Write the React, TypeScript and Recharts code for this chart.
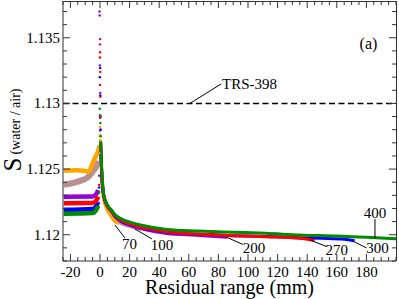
import {
  ComposedChart,
  Line,
  Scatter,
  XAxis,
  YAxis,
  ReferenceLine,
  ReferenceDot,
} from "recharts";

type Pt = [number, number];

// plateau before the peak (residual range < 0)
const orangeBefore: Pt[] = [[-24.5, 1.1249], [-15, 1.12492], [-10, 1.12485], [-7.5, 1.1248], [-5.5, 1.1253], [-3.2, 1.1259], [-1.5, 1.1263], [-0.3, 1.1268]];
const tanBefore: Pt[] = [[-24.5, 1.1238], [-15, 1.12405], [-8, 1.1244], [-5, 1.1248], [-2.5, 1.1252], [-0.8, 1.1256]];
const purpleBefore: Pt[] = [[-24.5, 1.1229], [-5, 1.12292], [-2.5, 1.1231], [-1.2, 1.1234]];
const redBefore: Pt[] = [[-24.5, 1.1224], [-5, 1.12242], [-2.5, 1.1226], [-1.2, 1.1229]];
const blueBefore: Pt[] = [[-24.5, 1.1219], [-5, 1.12196], [-2.5, 1.1222], [-1.2, 1.1225]];
const greenBefore: Pt[] = [[-24.5, 1.1216], [-5, 1.12165], [-2.5, 1.1219], [-1.2, 1.1222]];

// tails after the peak
const orangeAfter: Pt[] = [[0.4, 1.1266], [0.8, 1.1253], [1.2, 1.1242], [1.8, 1.1232], [2.5, 1.12265], [4, 1.1221], [6, 1.12165], [8, 1.1213], [10, 1.121], [13, 1.12085]];
const tanAfter: Pt[] = [[0.4, 1.1268], [0.8, 1.1255], [1.2, 1.1244], [1.8, 1.1234], [2.5, 1.1228], [4, 1.1223], [6, 1.1219], [8, 1.1216], [10, 1.1213], [13, 1.12095], [22, 1.12057], [28, 1.1204]];
const purpleAfter: Pt[] = [[0.4, 1.127], [0.8, 1.1257], [1.2, 1.1246], [1.8, 1.1236], [2.5, 1.12295], [4, 1.1224], [6, 1.122], [8, 1.12175], [10, 1.1214], [13, 1.1211], [22, 1.12065], [30, 1.1204], [45, 1.1201], [67, 1.11995], [86, 1.1198]];
const redAfter: Pt[] = [[0.4, 1.1271], [0.8, 1.1258], [1.2, 1.1247], [1.8, 1.1237], [2.5, 1.1230], [4, 1.12245], [6, 1.12205], [8, 1.1218], [10, 1.12148], [13, 1.1212], [22, 1.12075], [30, 1.12052], [45, 1.12022], [67, 1.12005], [90, 1.11993], [112, 1.11985], [135, 1.11973], [145, 1.11955]];
const blueAfter: Pt[] = [[0.4, 1.1270], [0.8, 1.1257], [1.2, 1.1246], [1.8, 1.1236], [2.5, 1.12298], [4, 1.12243], [6, 1.12203], [8, 1.12177], [10, 1.12145], [13, 1.12115], [22, 1.12072], [30, 1.1205], [45, 1.1202], [67, 1.12003], [90, 1.11993], [112, 1.11987], [135, 1.11978], [150, 1.11973], [165, 1.11966], [172, 1.11955]];
const greenAfter: Pt[] = [[0.4, 1.1272], [0.8, 1.126], [1.2, 1.1249], [1.8, 1.1239], [2.5, 1.1231], [4, 1.1225], [6, 1.1221], [8, 1.12185], [10, 1.12155], [13, 1.1213], [22, 1.1209], [30, 1.12068], [45, 1.1204], [67, 1.12028], [90, 1.12019], [112, 1.12011], [135, 1.11998], [160, 1.1199], [180, 1.1198], [200, 1.1197]];

// scattered points around the peak
const orangeSpike: Pt[] = [[0, 1.1282], [0.2, 1.1276], [0.3, 1.1272], [-0.2, 1.1275]];
const tanSpike: Pt[] = [[0.1, 1.1285], [-0.1, 1.1279], [0.3, 1.1272], [-0.4, 1.1262]];
const purpleSpike: Pt[] = [[-0.3, 1.137], [-0.2, 1.1367], [0.1, 1.1349], [-0.1, 1.1329], [0.2, 1.1308], [0, 1.1289], [0.3, 1.128], [-0.6, 1.1245]];
const redSpike: Pt[] = [[0, 1.1345], [0.1, 1.1339], [-0.1, 1.1335], [0.2, 1.1324], [0, 1.1314], [0.3, 1.1305], [0.4, 1.129], [-0.6, 1.1238]];
const blueSpike: Pt[] = [[0.1, 1.1327], [-0.1, 1.132], [0.2, 1.1306], [0.3, 1.129], [0.4, 1.128], [-0.6, 1.1236]];
const greenSpike: Pt[] = [[-0.2, 1.1296], [0, 1.1291], [0.3, 1.1285], [0.5, 1.1275], [-0.6, 1.1232]];

const X_MIN = -25;
const X_MAX = 200;
const Y_MIN = 1.118;
const Y_MAX = 1.1378;

const xMajor = [-20, 0, 20, 40, 60, 80, 100, 120, 140, 160, 180];
const xTicks = Array.from({ length: 46 }, (_, i) => -25 + i * 5);
const yMajor = [1.12, 1.125, 1.13, 1.135];
const yTicks = [1.118, 1.119, 1.12, 1.121, 1.122, 1.123, 1.124, 1.125, 1.126, 1.127, 1.128, 1.129, 1.13, 1.131, 1.132, 1.133, 1.134, 1.135, 1.136, 1.137];

const TRS = 1.13;

// chart box and margins -> plot size, used to mirror ticks on the top / right edges
const W = 399;
const H = 299;
const M = { top: 1, right: 3, bottom: 0, left: 0 };
const Y_AXIS_W = 63;
const X_AXIS_H = 38;
const PLOT_W = W - M.left - M.right - Y_AXIS_W;
const PLOT_H = H - M.top - M.bottom - X_AXIS_H;

const AXIS = "#333";
// no generic fallback on purpose: "serif" resolves to a sans face here
const FONT = "'Liberation Serif'";

const pts = (a: Pt[]) => a.map(([x, y]) => ({ x, y }));
const isMajor = (v: number, list: number[]) => list.some((m) => Math.abs(m - v) < 1e-7);

const series = [
  { color: "#BC8F8F", before: tanBefore, after: tanAfter, spike: tanSpike, w: 6 },
  { color: "#FFA500", before: orangeBefore, after: orangeAfter, spike: orangeSpike, w: 4.5 },
  { color: "#9400D3", before: purpleBefore, after: purpleAfter, spike: purpleSpike, w: 4.5 },
  { color: "#0000FF", before: blueBefore, after: blueAfter, spike: blueSpike, w: 4.5 },
  { color: "#FF0000", before: redBefore, after: redAfter, spike: redSpike, w: 4.5 },
  { color: "#008B00", before: greenBefore, after: greenAfter, spike: greenSpike, w: 4.5 },
];

// curve labels: text centre + pointer segment
const notes = [
  { text: "70", at: [19.9, 1.11929], from: [10.1, 1.12074], to: [16.9, 1.11975] },
  { text: "100", at: [41.9, 1.11922], from: [23.6, 1.12044], to: [35.1, 1.11968] },
  { text: "200", at: [104, 1.11899], from: [85.1, 1.11983], to: [96.6, 1.11926] },
  { text: "270", at: [160, 1.11884], from: [141.9, 1.1196], to: [153.4, 1.11909] },
  { text: "300", at: [187.5, 1.11899], from: [171.2, 1.1195], to: [180, 1.1190] },
  { text: "400", at: [185.8, 1.12165], from: [185.8, 1.1212], to: [185.8, 1.11975] },
  { text: "TRS-398", at: [101, 1.13148], from: [60.8, 1.13], to: [81.8, 1.13148] },
];

const txt = { fontFamily: FONT };

function BottomTick({ x, y, payload }: any) {
  const major = isMajor(payload.value, xMajor);
  const len = major ? 7 : 4;
  const top = y - PLOT_H;
  return (
    <g>
      <line x1={x} y1={y} x2={x} y2={y - len} stroke={AXIS} />
      <line x1={x} y1={top} x2={x} y2={top + len} stroke={AXIS} />
      {major && (
        <text x={x} y={y + 16} textAnchor="middle" fontSize={15} fill="#000" style={txt}>
          {payload.value}
        </text>
      )}
    </g>
  );
}

function LeftTick({ x, y, payload }: any) {
  const major = isMajor(payload.value, yMajor);
  const len = major ? 7 : 4;
  const right = x + PLOT_W;
  return (
    <g>
      <line x1={x} y1={y} x2={x + len} y2={y} stroke={AXIS} />
      <line x1={right} y1={y} x2={right - len} y2={y} stroke={AXIS} />
      {major && (
        <text x={x - 3} y={y + 5} textAnchor="end" fontSize={15} fill="#000" style={txt}>
          {String(payload.value)}
        </text>
      )}
    </g>
  );
}

function YTitle(props: any) {
  const vb = props.viewBox || { x: 0, y: 1, width: 63, height: 260 };
  const cx = vb.x + 21;
  const cy = vb.y + vb.height / 2 - 1;
  return (
    <text x={cx} y={cy} transform={`rotate(-90 ${cx} ${cy})`} textAnchor="middle" fill="#000" style={txt}>
      <tspan fontSize={25}>S</tspan>
      <tspan fontSize={14} dx={3} dy={-1}>(water / air)</tspan>
    </text>
  );
}

function XTitle(props: any) {
  const vb = props.viewBox || { x: 63, y: 261, width: 333, height: 38 };
  return (
    <text x={vb.x + vb.width / 2} y={vb.y + 33} textAnchor="middle" fontSize={20} fill="#000" style={txt}>
      Residual range (mm)
    </text>
  );
}

const Dot = (color: string) => (p: any) => <circle cx={p.cx} cy={p.cy} r={1.2} fill={color} />;

export default function App() {
  return (
    <div style={{ position: "absolute", left: 0, top: 0, width: W, height: H, background: "#fff", fontFamily: FONT }}>
      <ComposedChart width={W} height={H} margin={M}>
        <XAxis
          xAxisId="b"
          type="number"
          dataKey="x"
          domain={[X_MIN, X_MAX]}
          ticks={xTicks}
          interval={0}
          tickSize={0}
          tickMargin={0}
          tickLine={false}
          tick={<BottomTick />}
          axisLine={{ stroke: AXIS }}
          height={X_AXIS_H}
          label={{ content: <XTitle /> }}
        />
        <YAxis
          yAxisId="l"
          type="number"
          dataKey="y"
          domain={[Y_MIN, Y_MAX]}
          ticks={yTicks}
          interval={0}
          tickSize={0}
          tickMargin={0}
          tickLine={false}
          tick={<LeftTick />}
          axisLine={{ stroke: AXIS }}
          width={Y_AXIS_W}
          label={{ content: <YTitle /> }}
        />
        <ReferenceLine xAxisId="b" yAxisId="l" y={TRS} stroke="#000" strokeWidth={1.5} strokeDasharray="6 3.5" />
        {series.map((s, i) => (
          <Line
            key={"b" + i}
            xAxisId="b"
            yAxisId="l"
            data={pts(s.before)}
            dataKey="y"
            type="monotone"
            stroke={s.color}
            strokeWidth={s.w}
            dot={false}
            activeDot={false}
            isAnimationActive={false}
          />
        ))}
        {series.map((s, i) => (
          <Scatter
            key={"s" + i}
            xAxisId="b"
            yAxisId="l"
            data={pts(s.spike)}
            fill={s.color}
            shape={Dot(s.color)}
            isAnimationActive={false}
          />
        ))}
        {series.map((s, i) => (
          <Line
            key={"a" + i}
            xAxisId="b"
            yAxisId="l"
            data={pts(s.after)}
            dataKey="y"
            type="monotone"
            stroke={s.color}
            strokeWidth={3}
            dot={false}
            activeDot={false}
            isAnimationActive={false}
          />
        ))}
        {notes.map((n, i) => (
          <ReferenceLine
            key={"n" + i}
            xAxisId="b"
            yAxisId="l"
            segment={[{ x: n.from[0], y: n.from[1] }, { x: n.to[0], y: n.to[1] }]}
            stroke="#000"
            strokeWidth={1}
          />
        ))}
        {notes.map((n, i) => (
          <ReferenceDot
            key={"t" + i}
            xAxisId="b"
            yAxisId="l"
            x={n.at[0]}
            y={n.at[1]}
            r={0}
            fill="none"
            stroke="none"
            label={{ value: n.text, position: "center", fontSize: 15, fill: "#000", style: txt }}
          />
        ))}
        <ReferenceDot
          xAxisId="b"
          yAxisId="l"
          x={181.4}
          y={1.1346}
          r={0}
          fill="none"
          stroke="none"
          label={{ value: "(a)", position: "center", fontSize: 16, fill: "#000", style: txt }}
        />
      </ComposedChart>
      {/* top and right edges of the frame box */}
      <div
        style={{
          position: "absolute",
          left: M.left + Y_AXIS_W,
          top: M.top,
          width: PLOT_W,
          height: PLOT_H - 1,
          borderTop: `1px solid ${AXIS}`,
          borderRight: `1px solid ${AXIS}`,
          pointerEvents: "none",
        }}
      />
    </div>
  );
}
